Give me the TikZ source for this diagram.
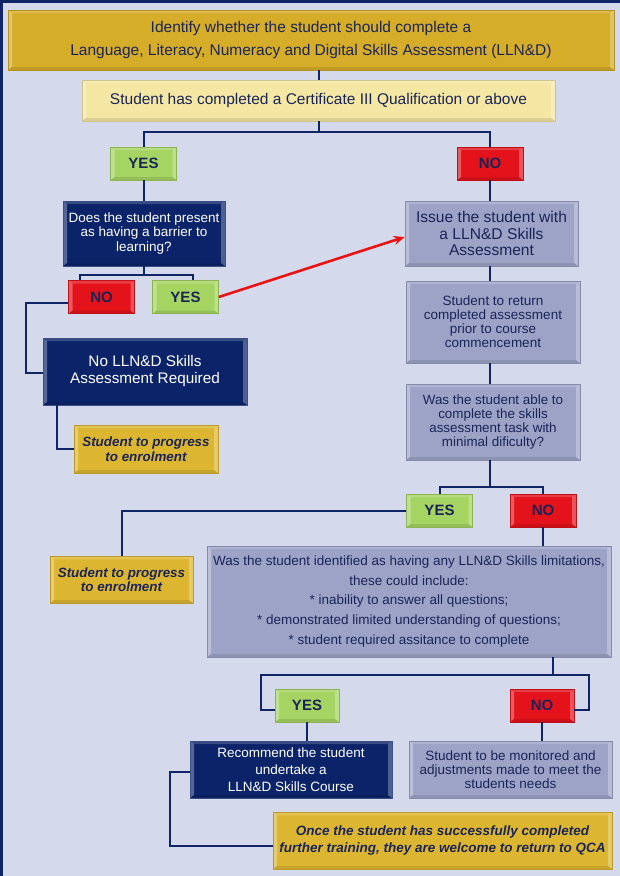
\documentclass[tikz,border=0pt]{standalone}
\usepackage{fontspec}
\setmainfont{Liberation Sans}
\usetikzlibrary{arrows.meta}
\definecolor{bg}{HTML}{D4DAEC}
\definecolor{navyline}{HTML}{0F2566}
\definecolor{goldA}{HTML}{D5AD29}
\definecolor{goldB}{HTML}{DDB631}
\definecolor{pale}{HTML}{F4E7A4}
\definecolor{greenbox}{HTML}{A6D462}
\definecolor{redbox}{HTML}{E3121B}
\definecolor{navybox}{HTML}{0B2369}
\definecolor{graybox}{HTML}{9DA3C7}
\definecolor{txt}{HTML}{1B2457}
\definecolor{arrowred}{HTML}{E81414}
\def\bb{path picture bounding box}
\tikzset{
  bevel/.style={path picture={
    \fill[white,opacity=.18] (\bb.north west) -- (\bb.north east) -- ([shift={(-4pt,-3pt)}]\bb.north east) -- ([shift={(4pt,-3pt)}]\bb.north west) -- cycle;
    \fill[white,opacity=.3] (\bb.north west) -- ([shift={(4pt,-3pt)}]\bb.north west) -- ([shift={(4pt,3pt)}]\bb.south west) -- (\bb.south west) -- cycle;
    \fill[white,opacity=.28] (\bb.north east) -- ([shift={(-4pt,-3pt)}]\bb.north east) -- ([shift={(-4pt,3pt)}]\bb.south east) -- (\bb.south east) -- cycle;
    \fill[black,opacity=.1] (\bb.south west) -- ([shift={(4pt,3pt)}]\bb.south west) -- ([shift={(-4pt,3pt)}]\bb.south east) -- (\bb.south east) -- cycle;
  }},
  box/.style={rectangle, bevel, align=center, inner sep=2pt, text=txt},
  goldbox/.style={box, fill=goldA, draw=goldA!85!black, line width=.6pt},
  palebox/.style={box, fill=pale, draw=pale!85!black, line width=.6pt},
  yesbox/.style={box, fill=greenbox, draw=greenbox!85!black, line width=.6pt, minimum width=66pt, minimum height=33pt, font=\fontsize{15}{17}\selectfont\bfseries},
  nobox/.style={box, fill=redbox, draw=redbox!85!black, line width=.6pt, minimum width=66pt, minimum height=33pt, font=\fontsize{15}{17}\selectfont\bfseries},
  navyb/.style={box, fill=navybox, draw=navybox!80!white, line width=.6pt, text=white},
  grayb/.style={box, fill=graybox, draw=graybox!85!black, line width=.6pt},
  smallgold/.style={box, fill=goldB, draw=goldB!85!black, line width=.6pt, font=\fontsize{13.4}{14.5}\selectfont\bfseries\itshape},
  conn/.style={draw=navyline, line width=2pt},
}
\begin{document}
\begin{tikzpicture}[x=1pt,y=-1pt]
\useasboundingbox (0,0) rectangle (620,876);
\fill[bg] (0,0) rectangle (620,876);
\draw[navyline, line width=3pt] (1.5,876) -- (1.5,1) -- (620,1);

% nodes
\node[goldbox, minimum width=606pt, minimum height=60pt, font=\fontsize{15.5}{23}\selectfont] (top) at (311,40)
  {Identify whether the student should complete a\\Language, Literacy, Numeracy and Digital Skills Assessment (LLN\&D)};
\node[palebox, minimum width=473pt, minimum height=41pt, font=\fontsize{15.5}{17}\selectfont] (pale) at (318.5,100.5)
  {Student has completed a Certificate III Qualification or above};
\node[yesbox] (yes1) at (143.5,163.5) {YES};
\node[nobox] (no1) at (490,163.5) {NO};
\node[navyb, minimum width=162pt, minimum height=65pt, font=\fontsize{13.5}{14.5}\selectfont] (q1) at (144,233.5)
  {Does the student present\\as having a barrier to\\learning?};
\node[nobox] (no2) at (101.5,297) {NO};
\node[yesbox] (yes2) at (185.5,297) {YES};
\node[grayb, minimum width=173pt, minimum height=65pt, font=\fontsize{15.6}{16.5}\selectfont] (issue) at (491.5,233.5)
  {Issue the student with\\a LLN\&D Skills\\Assessment};
\node[grayb, minimum width=174pt, minimum height=82pt, font=\fontsize{13.5}{14}\selectfont] (ret) at (493,322)
  {Student to return\\completed assessment\\prior to course\\commencement};
\node[grayb, minimum width=174pt, minimum height=76pt, font=\fontsize{13.4}{14}\selectfont] (able) at (493,422)
  {Was the student able to\\complete the skills\\assessment task with\\minimal dificulty?};
\node[navyb, minimum width=204pt, minimum height=67pt, font=\fontsize{15.3}{17}\selectfont] (noreq) at (145,371.5)
  {No LLN\&D Skills\\Assessment Required};
\node[smallgold, minimum width=144pt, minimum height=48pt] (prog1) at (146,449)
  {Student to progress\\to enrolment};
\node[yesbox] (yes3) at (439.5,510.5) {YES};
\node[nobox] (no3) at (543,510.5) {NO};
\node[smallgold, minimum width=143pt, minimum height=47pt] (prog2) at (121.5,579.5)
  {Student to progress\\to enrolment};
\node[grayb, minimum width=404pt, minimum height=111pt, font=\fontsize{13.5}{19.7}\selectfont] (big) at (409,601.5)
  {Was the student identified as having any LLN\&D Skills limitations,\\these could include:\\* inability to answer all questions;\\* demonstrated limited understanding of questions;\\* student required assitance to complete};
\node[yesbox, minimum width=64pt] (yes4) at (307,705.5) {YES};
\node[nobox, minimum width=64pt] (no4) at (542,705.5) {NO};
\node[navyb, minimum width=202pt, minimum height=57pt, font=\fontsize{13.5}{17}\selectfont] (rec) at (291,769.5)
  {Recommend the student\\undertake a\\LLN\&D Skills Course};
\node[grayb, minimum width=203pt, minimum height=57pt, font=\fontsize{13.5}{14}\selectfont] (mon) at (510.5,769.5)
  {Student to be monitored and\\adjustments made to meet the\\students needs};
\node[smallgold, minimum width=339pt, minimum height=57pt, font=\fontsize{13.5}{17}\selectfont\bfseries\itshape] (final) at (442.5,840.5)
  {Once the student has successfully completed\\further training, they are welcome to return to QCA};

% coordinates
\coordinate (j1) at (318.5,132);
\coordinate (j2) at (144,275);
\coordinate (j3) at (490,487);
\coordinate (j4) at (553,675);
\coordinate (j4l) at (261,675);
\coordinate (j4r) at (589,675);

% connectors
\draw[conn] (top.south -| pale) -- (pale.north);
\draw[conn] (pale.south) -- (j1);
\draw[conn] (yes1.north) |- (j1) -| (no1.north);
\draw[conn] (yes1.south) -- (yes1.south |- q1.north);
\draw[conn] (q1.south) -- (j2);
\draw[conn] ([xshift=-21.5pt]no2.north) |- (j2) -| ([xshift=7.5pt]yes2.north);
\draw[conn] ([yshift=-6pt]no2.west) -| (26,373) -- (noreq.west |- 0,373);
\draw[conn] ([xshift=14pt]noreq.south west) |- (prog1.west);
\draw[conn] (no1.south) -- (no1.south |- issue.north);
\draw[conn] (issue.south -| no1) -- (ret.north -| no1);
\draw[conn] (ret.south -| no1) -- (able.north -| no1);
\draw[conn] (able.south -| j3) -- (j3);
\draw[conn] (yes3.north) |- (j3) -| (no3.north);
\draw[conn] (yes3.west) -| (prog2.north);
\draw[conn] (no3.south) -- (no3.south |- big.north);
\draw[conn] (big.south -| j4) -- (j4);
\draw[conn] ([yshift=-4.5pt]yes4.west) -| (j4l) -- (j4r) |- ([yshift=-4.5pt]no4.east);
\draw[conn] (yes4.south) -- (yes4.south |- rec.north);
\draw[conn] (no4.south) -- (no4.south |- mon.north);
\draw[conn] ([yshift=-2.5pt]rec.west) -| (170,846) -- (final.west |- 0,846);
\draw[arrowred, line width=2.6pt, -{Stealth[length=11pt,width=9pt]}] (yes2.east) -- ([yshift=-3.5pt]issue.west);
\end{tikzpicture}
\end{document}
